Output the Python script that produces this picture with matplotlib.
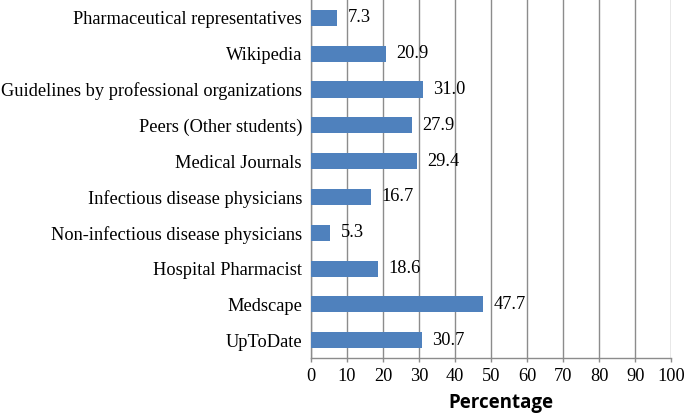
import matplotlib.pyplot as plt

sources = ['UpToDate', 'Medscape', 'Hospital Pharmacist',
           'Non-infectious disease physicians', 'Infectious disease physicians',
           'Medical Journals', 'Peers (Other students)',
           'Guidelines by professional organizations', 'Wikipedia',
           'Pharmaceutical representatives']
percent = [30.7, 47.7, 18.6, 5.3, 16.7, 29.4, 27.9, 31.0, 20.9, 7.3]
xticks = list(range(0, 101, 10))


def main():
    fig = plt.figure(figsize=(6.85, 4.15), dpi=100)
    ax = fig.add_axes([0.454, 0.137, 0.526, 0.863])

    pos = range(len(sources))
    ax.barh(pos, percent, height=0.45, color='#4F81BD', zorder=3)
    for y, v in zip(pos, percent):
        ax.annotate('%.1f' % v, (v, y), xytext=(7.5, 0), textcoords='offset points',
                    va='center', ha='left', fontsize=13.2, family='Liberation Serif')

    ax.set_xlim(0, 100)
    ax.set_ylim(-0.5, len(sources) - 0.5)
    ax.set_xticks(xticks)
    ax.set_yticks(list(pos))
    ax.set_yticklabels(sources, family='Liberation Serif', fontsize=13.2)
    for lbl in ax.get_xticklabels():
        lbl.set_family('Liberation Serif')
        lbl.set_fontsize(13.2)
    ax.tick_params(axis='y', length=0, pad=6.5)
    ax.tick_params(axis='x', length=3, width=1, color='#8c8c8c', pad=4)
    ax.grid(True, axis='x', color='#8c8c8c', linewidth=1.0, zorder=0)
    for s in ['top', 'right']:
        ax.spines[s].set_visible(False)
    for s in ['left', 'bottom']:
        ax.spines[s].set_color('#8c8c8c')
        ax.spines[s].set_linewidth(1.0)

    fig.text(501 / 685, 1 - 403 / 415, 'Percentage', fontsize=13.5,
             fontweight='bold', family='Open Sans', ha='center', va='center')
    fig.savefig('out.png', dpi=100)
    plt.close(fig)


if __name__ == '__main__':
    main()
